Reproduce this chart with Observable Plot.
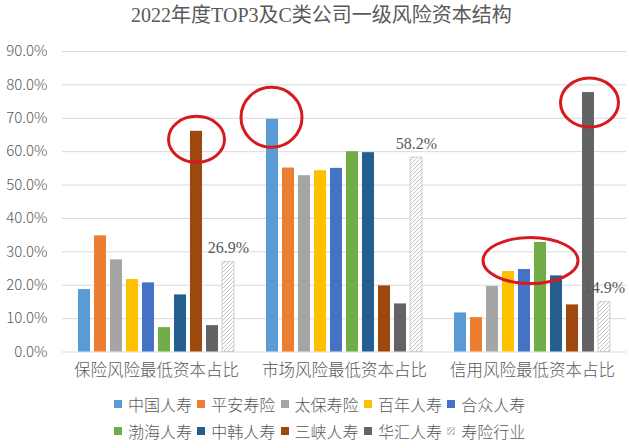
<!DOCTYPE html>
<html>
<head>
<meta charset="utf-8">
<script src="https://cdn.jsdelivr.net/npm/d3@7"></script>
<script src="https://cdn.jsdelivr.net/npm/@observablehq/plot@0.6"></script>
<style>
  body { margin: 0; background: #fff; }
  #chart { width: 629px; height: 448px; position: relative; overflow: hidden; font-family: "Noto Sans CJK SC", sans-serif; color: #595959; }
  #title { height: 30px; line-height: 30px; text-align: center; font-family: "Liberation Serif", "Noto Sans CJK SC", serif; font-size: 20px; color: #595959; padding-left: 14px; }
  #legend { display: grid; grid-template-columns: repeat(5, 83.3px); grid-auto-rows: 27px; margin-left: 114px; }
  .item { display: flex; align-items: center; font-size: 16px; font-weight: 300; color: #595959; white-space: nowrap; }
  .sw { width: 8px; height: 8px; margin-right: 6px; flex: none; }
</style>
</head>
<body>
<div id="chart">
  <div id="title">2022年度TOP3及C类公司一级风险资本结构</div>
  <div id="plot"></div>
  <div id="legend"></div>
</div>
<script>
// ---- data ----
const groups = ["保险风险最低资本占比", "市场风险最低资本占比", "信用风险最低资本占比"];
const companies = ["中国人寿", "平安寿险", "太保寿险", "百年人寿", "合众人寿", "渤海人寿", "中韩人寿", "三峡人寿", "华汇人寿", "寿险行业"];
const insuranceRisk = [18.7, 34.8, 27.6, 21.7, 20.7, 7.3, 17.1, 66.1, 7.9, 26.9];
const marketRisk    = [69.7, 55.1, 52.8, 54.3, 55.0, 60.0, 59.7, 19.8, 14.4, 58.2];
const creditRisk    = [11.7, 10.3, 19.6, 24.1, 24.7, 32.8, 22.8, 14.1, 77.7, 14.9];
const colors = ["#5B9BD5", "#ED7D31", "#A5A5A5", "#FFC000", "#4472C4", "#70AD47", "#255E91", "#9E480E", "#636363", "url(#hatch)"];
const yTicks = [0, 10, 20, 30, 40, 50, 60, 70, 80, 90];
const industry = "寿险行业";
// highlighted (circled) bars: [group index, company]
const highlights = [
  {g: 0, c: "三峡人寿", dx: 0, dy: 8, rx: 28, ry: 23},
  {g: 1, c: "中国人寿", dx: -1, dy: -2, rx: 30.5, ry: 30},
  {g: 2, c: "华汇人寿", dx: 1, dy: 10, rx: 29, ry: 24.5},
  {g: 2, c: "合众人寿", dx: 6, dy: -9, rx: 47.5, ry: 23}
];

const seriesByGroup = [insuranceRisk, marketRisk, creditRisk];
const rows = [];
groups.forEach((g, gi) => companies.forEach((c, ci) => rows.push({group: g, company: c, value: seriesByGroup[gi][ci]})));
const industryRows = rows.filter(d => d.company === industry);
const ann = highlights.map(h => ({group: groups[h.g], company: h.c, value: seriesByGroup[h.g][companies.indexOf(h.c)], ...h}));

const plot = Plot.plot({
  width: 629,
  height: 360,
  marginTop: 21,
  marginBottom: 38.5,
  marginLeft: 61,
  marginRight: 2,
  style: {fontFamily: '"Noto Sans CJK SC", sans-serif', color: "#595959", background: "transparent", overflow: "visible"},
  fx: {domain: groups, padding: 0},
  x: {domain: companies, paddingInner: 0.22, paddingOuter: 0.84, axis: null},
  y: {domain: [0, 90], axis: null},
  color: {domain: companies, range: colors},
  marks: [
    Plot.gridY(yTicks, {stroke: "#d9d9d9", strokeOpacity: 1, strokeWidth: 1}),
    Plot.axisY({ticks: yTicks, tickFormat: d => d.toFixed(1) + "%", tickSize: 0, tickPadding: 15, fontSize: 15, fontWeight: 300, label: null}),
    Plot.axisFx({anchor: "bottom", tickSize: 0, tickPadding: 12, fontSize: 16.5, fontWeight: 300, label: null}),
    Plot.barY(rows, {fx: "group", x: "company", y: "value", fill: "company"}),
    Plot.barY(industryRows, {fx: "group", x: "company", y: "value", fill: "none", stroke: "#cfcfcf", strokeWidth: 1}),
    Plot.text(industryRows, {fx: "group", x: "company", y: "value", text: d => d.value.toFixed(1) + "%", dy: -14, fontSize: 16, fontWeight: "normal", fontFamily: '"Liberation Serif", serif', fill: "#595959"}),
    Plot.dot(ann, {
      fx: "group", x: "company", y: "value", r: 20, fill: "none", stroke: "#d71a20", strokeWidth: 3,
      render(index, scales, values, dimensions, context, next) {
        const g = next(index, scales, values, dimensions, context);
        const circles = Array.from(g.querySelectorAll("circle"));
        circles.forEach((c, k) => {
          const d = ann[index[k]];
          const e = document.createElementNS("http://www.w3.org/2000/svg", "ellipse");
          for (const a of c.getAttributeNames()) if (a !== "r") e.setAttribute(a, c.getAttribute(a));
          e.setAttribute("cx", +c.getAttribute("cx") + d.dx);
          e.setAttribute("cy", +c.getAttribute("cy") + d.dy);
          e.setAttribute("rx", d.rx);
          e.setAttribute("ry", d.ry);
          c.replaceWith(e);
        });
        return g;
      }
    })
  ]
});

// hatch pattern
const NS = "http://www.w3.org/2000/svg";
const defs = document.createElementNS(NS, "defs");
const pat = document.createElementNS(NS, "pattern");
pat.setAttribute("id", "hatch");
pat.setAttribute("width", "4");
pat.setAttribute("height", "4");
pat.setAttribute("patternUnits", "userSpaceOnUse");
const bg = document.createElementNS(NS, "rect");
bg.setAttribute("width", "4"); bg.setAttribute("height", "4"); bg.setAttribute("fill", "#ffffff");
const p = document.createElementNS(NS, "path");
p.setAttribute("d", "M-1,1 L1,-1 M0,4 L4,0 M3,5 L5,3");
p.setAttribute("stroke", "#c4c4c4");
p.setAttribute("stroke-width", "1");
pat.appendChild(bg); pat.appendChild(p); defs.appendChild(pat);
plot.insertBefore(defs, plot.firstChild);
document.getElementById("plot").appendChild(plot);

// legend
const legend = d3.select("#legend");
companies.forEach((c, i) => {
  const it = legend.append("div").attr("class", "item");
  const sw = it.append("div").attr("class", "sw");
  if (c === industry) sw.style("background", "repeating-linear-gradient(135deg, #c4c4c4 0 1px, #fff 1px 2.8px)").style("outline", "1px solid #d4d4d4").style("outline-offset", "-1px");
  else sw.style("background", colors[i]);
  it.append("span").text(c);
});
</script>
</body>
</html>
